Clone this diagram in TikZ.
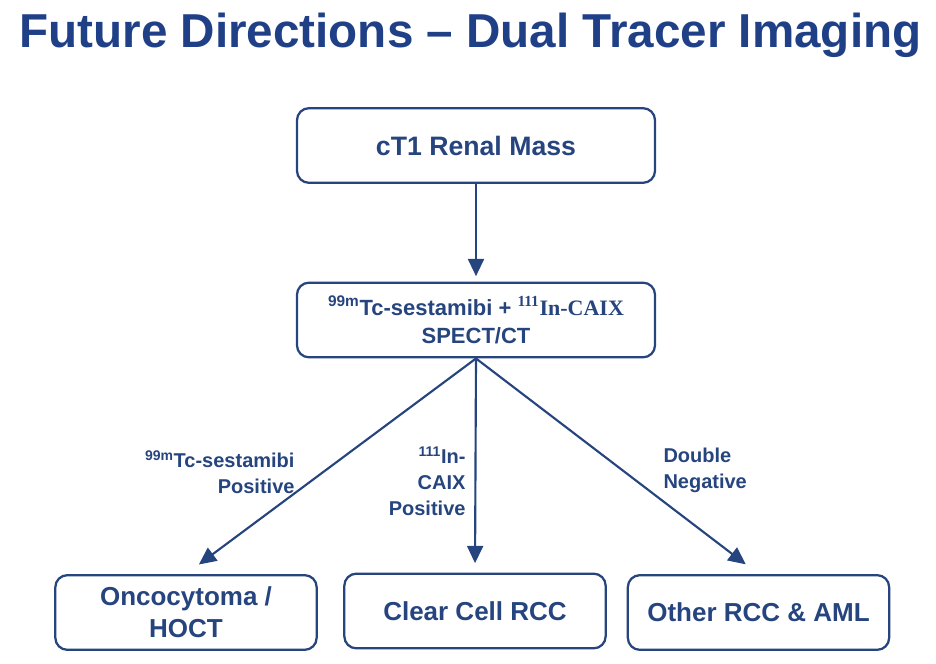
\documentclass[tikz,border=0pt]{standalone}
\usepackage{fontspec}
\setmainfont{Liberation Sans}
\newfontfamily\timesfont{Liberation Serif}
\usetikzlibrary{arrows.meta}
\definecolor{titleblue}{RGB}{31,63,135}
\definecolor{boxblue}{RGB}{38,68,126}
\tikzset{every picture/.style={line width=0.75pt}}

\begin{document}
\begin{tikzpicture}[x=0.75pt,y=0.75pt,yscale=-1,xscale=1,
  stepbox/.style={draw=boxblue,line width=1.7pt,rounded corners=9pt,fill=white,
    text=boxblue,font=\bfseries\fontsize{19.5}{24}\selectfont,align=center,
    minimum width=268.5pt,minimum height=56pt,inner sep=2pt},
  leafbox/.style={stepbox,minimum width=196pt},
  arr/.style={draw=boxblue,line width=1.6pt,-{Triangle[length=13pt,width=12pt]}},
  lbl/.style={text=boxblue,font=\bfseries\fontsize{15}{19.5}\selectfont,inner sep=0.75pt}]
\path[use as bounding box] (0,0) rectangle (936,664);

% Title
\node[anchor=west,inner sep=0pt,text=titleblue,font=\bfseries\fontsize{35.7}{40}\selectfont] (title) at (19,35) {Future Directions -- Dual Tracer Imaging};

% Boxes
\node[stepbox,font=\bfseries\fontsize{20}{24}\selectfont] (mass) at (476,145.5) {cT1 Renal Mass};
\node[stepbox,font=\bfseries\fontsize{16.5}{21}\selectfont] (spect) at (476,320) {\textsuperscript{99m}Tc-sestamibi + {\timesfont\textsuperscript{111}In-CAIX}\\SPECT/CT};
\node[leafbox] (onco) at (186,612.5) {Oncocytoma /\\HOCT};
\node[leafbox] (ccrcc) at (475,611) {Clear Cell RCC};
\node[leafbox] (other) at (758.5,612.5) {Other RCC \& AML};

% Arrows
\draw[arr,shorten >=4pt] (mass) -- (spect);
\draw[arr,shorten >=12pt] (spect.south) -- (onco.north);
\draw[arr,shorten >=7pt] (spect.south) -- (ccrcc.north);
\draw[arr,shorten >=12pt] (spect.south) -- (other.north);

% Text Node
\node[lbl,anchor=east,align=right] (sestalbl) at (296,472) {\textsuperscript{99m}Tc-sestamibi\\Positive};
% Text Node
\node[lbl,anchor=east,align=right] (caixlbl) at (467,481) {\textsuperscript{111}In-\\CAIX\\Positive};
% Text Node
\node[lbl,anchor=west,align=left] (neglbl) at (662,470) {Double\\Negative};

\end{tikzpicture}
\end{document}
